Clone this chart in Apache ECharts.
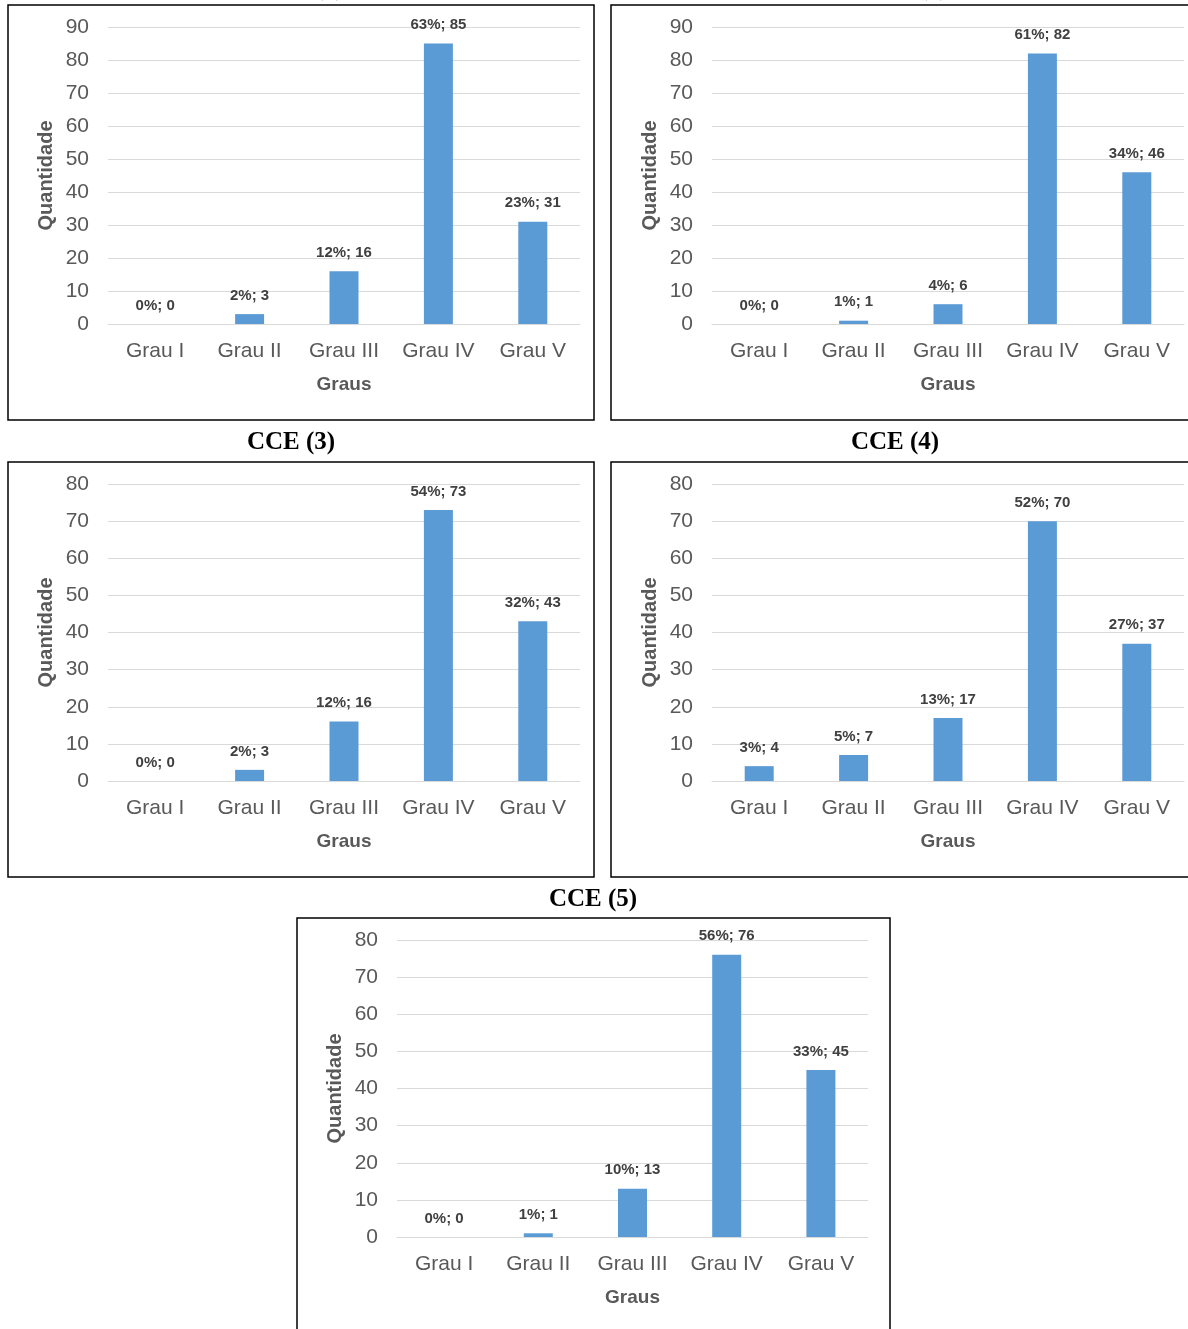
<!DOCTYPE html>
<html><head><meta charset="utf-8">
<script src="https://cdn.jsdelivr.net/npm/echarts@6/dist/echarts.min.js"></script>
<style>html,body{margin:0;padding:0;background:#fff}#c{width:1188px;height:1329px}</style>
</head><body><div id="c"></div>
<script>
const categories = ['Grau I','Grau II','Grau III','Grau IV','Grau V'];
const titles = ['CCE (1)','CCE (2)','CCE (3)','CCE (4)','CCE (5)'];
const values1 = [0,3,16,85,31];
const pct1    = [0,2,12,63,23];
const values2 = [0,1,6,82,46];
const pct2    = [0,1,4,61,34];
const values3 = [0,3,16,73,43];
const pct3    = [0,2,12,54,32];
const values4 = [4,7,17,70,37];
const pct4    = [3,5,13,52,27];
const values5 = [0,1,13,76,45];
const pct5    = [0,1,10,56,33];
const yMax = [90,90,80,80,80];

const values = [values1,values2,values3,values4,values5];
const pcts = [pct1,pct2,pct3,pct4,pct5];

const grids = [
  {left:108, top:27, width:472, height:297},
  {left:712, top:27, width:472, height:297},
  {left:108, top:484, width:472, height:297},
  {left:712, top:484, width:472, height:297},
  {left:397, top:940, width:471, height:297}
];
const boxes = [
  {x:8, y:5, w:586, h:415},
  {x:611, y:5, w:590, h:415},
  {x:8, y:462, w:586, h:415},
  {x:611, y:462, w:590, h:415},
  {x:297, y:918, w:593, h:430}
];
const titlePos = [
  {x:300, y:-11},{x:904, y:-11},
  {x:291, y:443},{x:895, y:443},{x:593, y:900}
];
const gray = '#595959';
const font = 'Liberation Sans, Arial, sans-serif';

const option = {
  animation:false,
  backgroundColor:'#fff',
  grid: grids,
  xAxis: grids.map((g,i)=>({
    type:'category', gridIndex:i, data:categories,
    axisLine:{show:true, lineStyle:{color:'#D9D9D9', width:1}},
    axisTick:{show:false},
    axisLabel:{color:gray, fontSize:21, fontFamily:font, margin:17, interval:0},
    name:'Graus', nameLocation:'middle', nameGap:51,
    nameTextStyle:{color:gray, fontSize:19, fontWeight:'bold', fontFamily:font}
  })),
  yAxis: grids.map((g,i)=>({
    type:'value', gridIndex:i, min:0, max:yMax[i], interval:10,
    axisLine:{show:false}, axisTick:{show:false},
    splitLine:{lineStyle:{color:'#D9D9D9', width:1}},
    axisLabel:{color:gray, fontSize:21, fontFamily:font, margin:19},
    name:'Quantidade', nameLocation:'middle', nameGap:52, nameRotate:90,
    nameTextStyle:{color:gray, fontSize:20, fontWeight:'bold', fontFamily:font}
  })),
  series: values.map((v,i)=>({
    type:'bar', xAxisIndex:i, yAxisIndex:i, data:v, barWidth:29,
    itemStyle:{color:'#5B9BD5'},
    label:{show:true, position:'top', distance:11, color:'#404040', fontSize:15,
      fontWeight:'bold', fontFamily:font,
      formatter:p=>pcts[i][p.dataIndex]+'%; '+p.value}
  })),
  graphic: [
    ...boxes.map(b=>({type:'rect', shape:{x:b.x, y:b.y, width:b.w, height:b.h},
      style:{fill:'none', stroke:'#000', lineWidth:1.5}, z:-1})),
    ...titlePos.map((t,i)=>({type:'text', x:t.x, y:t.y,
      style:{text:titles[i], fill:'#000', font:'bold 25px "Liberation Serif", "Times New Roman", serif',
        textAlign:'center', textVerticalAlign:'middle'}}))
  ]
};
const chart = echarts.init(document.getElementById('c'), null, {renderer:'canvas'});
chart.setOption(option);
</script></body></html>
